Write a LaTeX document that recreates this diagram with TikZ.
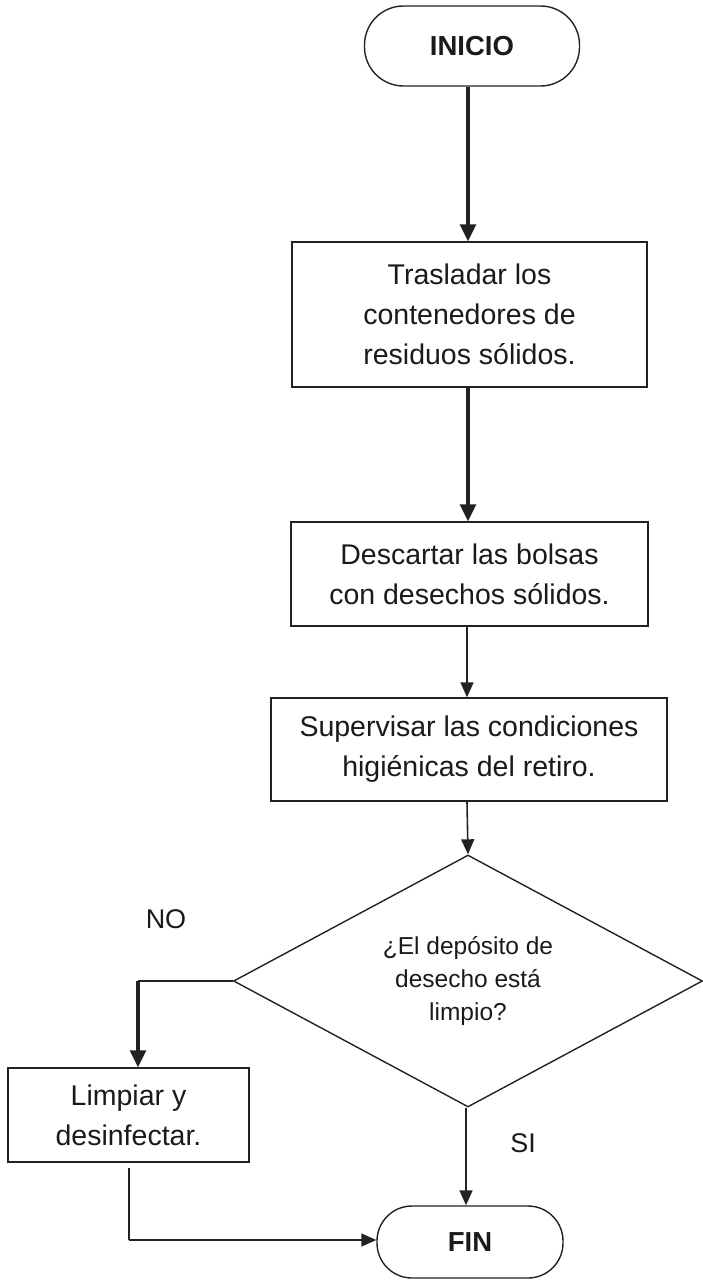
\documentclass[tikz,border=0pt]{standalone}
\usepackage{fontspec}
\setmainfont{Liberation Sans}
\usetikzlibrary{shapes.geometric,arrows.meta}
\definecolor{ln}{HTML}{222222}
\definecolor{tx}{HTML}{1A1A1A}
\tikzset{
  base/.style={draw=ln, line width=1.4pt, text=tx, align=center, inner sep=0pt},
  procbox/.style={base, rectangle, font=\fontsize{28.5}{40}\selectfont},
  termbox/.style={base, rectangle, font=\fontsize{27.5}{33}\selectfont\bfseries},
  decbox/.style={base, diamond, shape aspect=1.86, font=\fontsize{24.5}{33}\selectfont},
  lbl/.style={text=tx, font=\fontsize{27}{32}\selectfont, inner sep=0pt},
  thinarr/.style={draw=ln, line width=1.6pt, -{Triangle[length=15pt,width=13pt]}},
  thickarr/.style={draw=ln, line width=3.2pt, -{Triangle[length=17pt,width=16pt]}},
  thinln/.style={draw=ln, line width=1.8pt},
}
\begin{document}
\begin{tikzpicture}[x=1pt,y=-1pt]
\useasboundingbox (0,0) rectangle (703,1281);
\node[termbox, rounded corners=39pt, minimum width=215pt, minimum height=80pt] (ini) at (472,46) {INICIO};
\node[procbox, minimum width=355pt, minimum height=145pt] (b1) at (469.5,314.5) {Trasladar los\\contenedores de\\residuos sólidos.};
\node[procbox, minimum width=357pt, minimum height=104pt] (b2) at (469.5,574) {Descartar las bolsas\\con desechos sólidos.};
\node[procbox, minimum width=396pt, minimum height=103pt] (b3) at (469,749.5) {Supervisar las condiciones\\higiénicas del retiro.};
\node[decbox, minimum width=469pt, minimum height=252pt] (d) at (468,981) {¿El depósito de\\desecho está\\limpio?};
\node[procbox, minimum width=241pt, minimum height=94pt] (b4) at (128.5,1115) {Limpiar y\\desinfectar.};
\node[termbox, rounded corners=35pt, minimum width=186pt, minimum height=72pt] (fin) at (470,1242) {FIN};
\node[lbl] (no) at (166,919) {NO};
\node[lbl] (si) at (523,1143) {SI};
\coordinate (c1) at (138,981);
\coordinate (c2) at (129,1240);
\draw[thickarr] (ini.south -| 468,0) -- (b1.north -| 468,0);
\draw[thickarr] (b1.south -| 468,0) -- (b2.north -| 468,0);
\draw[thinarr] (b2.south -| 467,0) -- (b3.north -| 467,0);
\draw[thinarr] (b3.south -| 467,0) -- (d.north);
\draw[thinln] (d.west) -- (c1);
\draw[thickarr] (c1) -- (c1 |- b4.north);
\draw[thinln, shorten <=5pt] (b4.south -| c2) -- (c2);
\draw[thinarr] (c2) -- (fin.west |- c2);
\draw[thinarr] (d.south -| 466,0) -- (fin.north -| 466,0);
\end{tikzpicture}
\end{document}
